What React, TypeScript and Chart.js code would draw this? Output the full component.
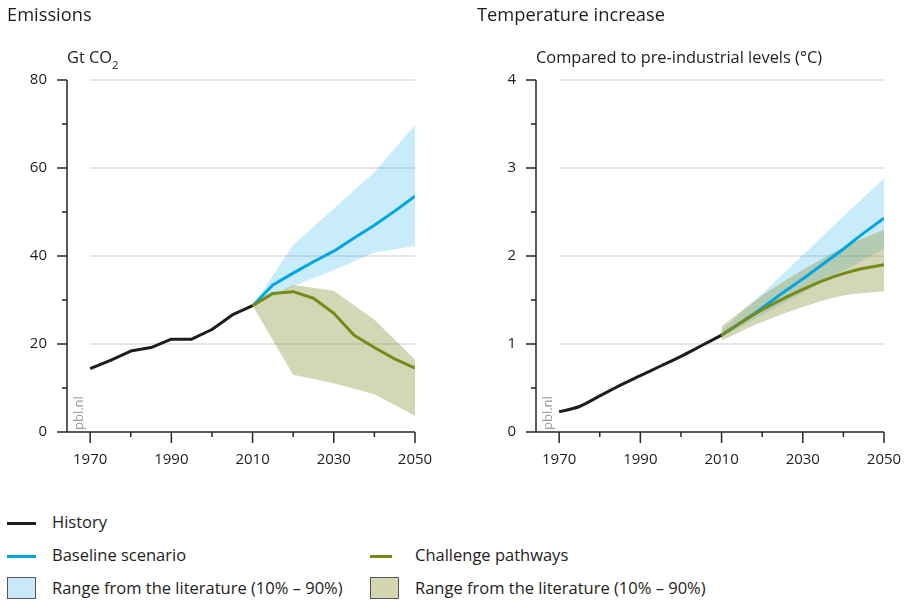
import React, { useEffect, useRef } from "react";
import { Chart, registerables } from "chart.js";
Chart.register(...registerables);

// ---------- data ----------
const historyYears = [1970, 1975, 1980, 1985, 1990, 1995, 2000, 2005, 2010];
const scenarioYears = [2010, 2015, 2020, 2025, 2030, 2035, 2040, 2045, 2050];
const rangeYears = [2010, 2020, 2030, 2040, 2050];

const emisHistory = [14.4, 16.3, 18.4, 19.2, 21.1, 21.1, 23.3, 26.6, 28.7];
const emisBaseline = [28.7, 33.4, 36.1, 38.7, 41.1, 44.1, 47.0, 50.2, 53.6];
const emisChallenge = [28.7, 31.5, 31.9, 30.4, 27.0, 22.0, 19.2, 16.6, 14.5];
const emisBaseUpper = [28.7, 42.5, 50.8, 59.1, 69.8];
const emisBaseLower = [28.7, 33.1, 36.8, 40.8, 42.3];
const emisChalUpper = [28.7, 33.4, 32.1, 25.5, 16.4];
const emisChalLower = [28.7, 13.0, 11.1, 8.6, 3.7];

const tempHistory = [0.23, 0.29, 0.41, 0.53, 0.64, 0.75, 0.86, 0.98, 1.1];
const tempBaseline = [1.1, 1.25, 1.41, 1.58, 1.74, 1.91, 2.08, 2.26, 2.43];
const tempChallenge = [1.1, 1.25, 1.39, 1.51, 1.62, 1.72, 1.8, 1.86, 1.9];
const tempBaseUpper = [1.15, 1.57, 2.01, 2.45, 2.88];
const tempBaseLower = [1.08, 1.33, 1.58, 1.83, 2.08];
const tempChalUpper = [1.2, 1.55, 1.84, 2.1, 2.3];
const tempChalLower = [1.04, 1.25, 1.42, 1.55, 1.6];

const xMajorTicks = [1970, 1990, 2010, 2030, 2050];
const xMinorTicks = [1980, 2000, 2020, 2040];
const emisMajorTicks = [0, 20, 40, 60, 80];
const emisMinorTicks = [10, 30, 50, 70];
const tempMajorTicks = [0, 1, 2, 3, 4];
const tempMinorTicks = [0.5, 1.5, 2.5, 3.5];

// ---------- style ----------
const FONT = '"Open Sans", "Noto Sans", sans-serif';
const C_HIST = "#1d1d1b";
const C_BASE = "#00a6e2";
const C_CHAL = "#778a16";
const F_BASE = "rgba(0,166,230,0.21)";
const F_CHAL = "rgba(140,150,60,0.38)";
const C_AXIS = "#262626";
const C_GRID = "#dcdcdc";

const pts = (xs: number[], ys: number[]) => xs.map((x, i) => ({ x, y: ys[i] }));

function axesPlugin(yMajor: number[], yMinor: number[]) {
  return {
    id: "customAxes",
    beforeDatasetsDraw(chart: any) {
      const { ctx, scales } = chart;
      const x = scales.x, y = scales.y;
      const x0 = x.getPixelForValue(xMajorTicks[0]);
      const x1 = x.getPixelForValue(xMajorTicks[xMajorTicks.length - 1]);
      ctx.save();
      ctx.strokeStyle = C_GRID;
      ctx.lineWidth = 1.5;
      yMajor.slice(1).forEach((v) => {
        const py = y.getPixelForValue(v);
        ctx.beginPath();
        ctx.moveTo(x0, py);
        ctx.lineTo(x1, py);
        ctx.stroke();
      });
      // watermark
      const bx = (x.left + x0) / 2 + 0.5;
      const by = y.getPixelForValue(0) - 2;
      ctx.translate(bx, by);
      ctx.rotate(-Math.PI / 2);
      ctx.fillStyle = "#9b9b9b";
      ctx.font = `13px ${FONT}`;
      ctx.textAlign = "left";
      ctx.textBaseline = "middle";
      ctx.fillText("pbl.nl", 0, 0);
      ctx.restore();
    },
    afterDatasetsDraw(chart: any) {
      const { ctx, scales } = chart;
      const x = scales.x, y = scales.y;
      const ax = x.left;
      const ay = y.getPixelForValue(0);
      const x1 = x.getPixelForValue(xMajorTicks[xMajorTicks.length - 1]);
      ctx.save();
      ctx.strokeStyle = C_AXIS;
      ctx.lineWidth = 1.5;
      ctx.beginPath();
      ctx.moveTo(ax, y.getPixelForValue(yMajor[yMajor.length - 1]));
      ctx.lineTo(ax, ay);
      ctx.moveTo(ax - 10, ay);
      ctx.lineTo(x1, ay);
      yMajor.slice(1).forEach((v) => {
        const py = y.getPixelForValue(v);
        ctx.moveTo(ax - 10, py);
        ctx.lineTo(ax, py);
      });
      yMinor.forEach((v) => {
        const py = y.getPixelForValue(v);
        ctx.moveTo(ax - 5, py);
        ctx.lineTo(ax, py);
      });
      xMajorTicks.forEach((v) => {
        const px = x.getPixelForValue(v);
        ctx.moveTo(px, ay);
        ctx.lineTo(px, ay + 11);
      });
      xMinorTicks.forEach((v) => {
        const px = x.getPixelForValue(v);
        ctx.moveTo(px, ay);
        ctx.lineTo(px, ay + 5);
      });
      ctx.stroke();
      ctx.restore();
    },
  };
}

function makeConfig(p: {
  hist: number[]; base: number[]; chal: number[];
  bu: number[]; bl: number[]; cu: number[]; cl: number[];
  yMax: number; yMajor: number[]; yMinor: number[];
  yWidth: number; padRight: number; smooth: boolean;
}) {
  const interp = p.smooth ? { cubicInterpolationMode: "monotone" as const } : { tension: 0 };
  const band = { borderWidth: 0, borderColor: "transparent", pointRadius: 0, ...interp };
  const line = { borderWidth: 3, pointRadius: 0, borderJoinStyle: "round" as const, fill: false, ...interp };
  return {
    type: "line" as const,
    data: {
      datasets: [
        { label: "bu", data: pts(rangeYears, p.bu), fill: "+1", backgroundColor: F_BASE, order: 6, ...band },
        { label: "bl", data: pts(rangeYears, p.bl), fill: false, order: 6, ...band },
        { label: "cu", data: pts(rangeYears, p.cu), fill: "+1", backgroundColor: F_CHAL, order: 5, ...band },
        { label: "cl", data: pts(rangeYears, p.cl), fill: false, order: 5, ...band },
        { label: "History", data: pts(historyYears, p.hist), borderColor: C_HIST, order: 3, ...line },
        { label: "Baseline scenario", data: pts(scenarioYears, p.base), borderColor: C_BASE, order: 2, ...line },
        { label: "Challenge pathways", data: pts(scenarioYears, p.chal), borderColor: C_CHAL, order: 1, ...line },
      ],
    },
    options: {
      animation: false as const,
      responsive: false,
      devicePixelRatio: 1,
      layout: { padding: { left: 0, right: p.padRight, top: 80, bottom: 0 } },
      plugins: { legend: { display: false }, tooltip: { enabled: false } },
      scales: {
        x: {
          type: "linear" as const,
          min: 1964.3,
          max: 2050,
          grid: { display: false, drawTicks: false },
          border: { display: false },
          ticks: { font: { family: FONT, size: 15 }, color: "#1d1d1b", padding: 19, maxRotation: 0, callback: (v: any) => String(v) },
          afterBuildTicks: (s: any) => { s.ticks = xMajorTicks.map((v) => ({ value: v })); },
          afterFit: (s: any) => { s.height = 48; },
        },
        y: {
          type: "linear" as const,
          min: 0,
          max: p.yMax,
          grid: { display: false, drawTicks: false },
          border: { display: false },
          ticks: { font: { family: FONT, size: 15 }, color: "#1d1d1b", padding: 20, callback: (v: any) => String(v) },
          afterBuildTicks: (s: any) => { s.ticks = p.yMajor.map((v) => ({ value: v })); },
          afterFit: (s: any) => { s.width = p.yWidth; },
        },
      },
    },
    plugins: [axesPlugin(p.yMajor, p.yMinor)],
  };
}

function ChartCanvas({ config, left, width, height }: { config: () => any; left: number; width: number; height: number }) {
  const ref = useRef<HTMLCanvasElement>(null);
  useEffect(() => {
    const chart = new Chart(ref.current!, config());
    return () => chart.destroy();
  }, []);
  return (
    <canvas ref={ref} width={width} height={height}
      style={{ position: "absolute", left, top: 0, width, height }} />
  );
}

const txt = (size: number): React.CSSProperties => ({
  position: "absolute", fontFamily: FONT, fontSize: size, lineHeight: "20px",
  color: "#1d1d1b", whiteSpace: "nowrap",
});

export default function App() {
  return (
    <div style={{ position: "fixed", left: 0, top: 0, width: 913, height: 601, background: "#fff", overflow: "hidden" }}>
      <ChartCanvas left={0} width={460} height={480} config={() => makeConfig({
        hist: emisHistory, base: emisBaseline, chal: emisChallenge,
        bu: emisBaseUpper, bl: emisBaseLower, cu: emisChalUpper, cl: emisChalLower,
        yMax: 80, yMajor: emisMajorTicks, yMinor: emisMinorTicks, yWidth: 67, padRight: 45, smooth: false,
      })} />
      <ChartCanvas left={460} width={470} height={480} config={() => makeConfig({
        hist: tempHistory, base: tempBaseline, chal: tempChallenge,
        bu: tempBaseUpper, bl: tempBaseLower, cu: tempChalUpper, cl: tempChalLower,
        yMax: 4, yMajor: tempMajorTicks, yMinor: tempMinorTicks, yWidth: 76, padRight: 46, smooth: true,
      })} />

      <div style={{ ...txt(18.3), left: 7, top: 4 }}>Emissions</div>
      <div style={{ ...txt(18.3), left: 477, top: 4 }}>Temperature increase</div>
      <div style={{ ...txt(16.4), left: 67, top: 47 }}>
        Gt CO<span style={{ fontSize: 11.5, position: "relative", top: 6 }}>2</span>
      </div>
      <div style={{ ...txt(16.4), left: 536, top: 47 }}>Compared to pre-industrial levels (°C)</div>

      {/* legend */}
      <div style={{ position: "absolute", left: 7, top: 521.5, width: 29, height: 3, background: C_HIST }} />
      <div style={{ ...txt(16.5), left: 52, top: 511.5 }}>History</div>
      <div style={{ position: "absolute", left: 7, top: 554.5, width: 29, height: 3, background: C_BASE }} />
      <div style={{ ...txt(16.5), left: 52, top: 545 }}>Baseline scenario</div>
      <div style={{ position: "absolute", left: 370, top: 554.5, width: 22, height: 3, background: C_CHAL }} />
      <div style={{ ...txt(16.5), left: 415, top: 545 }}>Challenge pathways</div>
      <div style={{ position: "absolute", left: 7, top: 577, width: 27, height: 20, background: "#c9e9f8", border: "1px solid #555" }} />
      <div style={{ ...txt(16.5), left: 52, top: 577.5 }}>Range from the literature (10% – 90%)</div>
      <div style={{ position: "absolute", left: 370, top: 577, width: 27, height: 20, background: "#d4d6b0", border: "1px solid #555" }} />
      <div style={{ ...txt(16.5), left: 415, top: 577.5 }}>Range from the literature (10% – 90%)</div>
    </div>
  );
}
